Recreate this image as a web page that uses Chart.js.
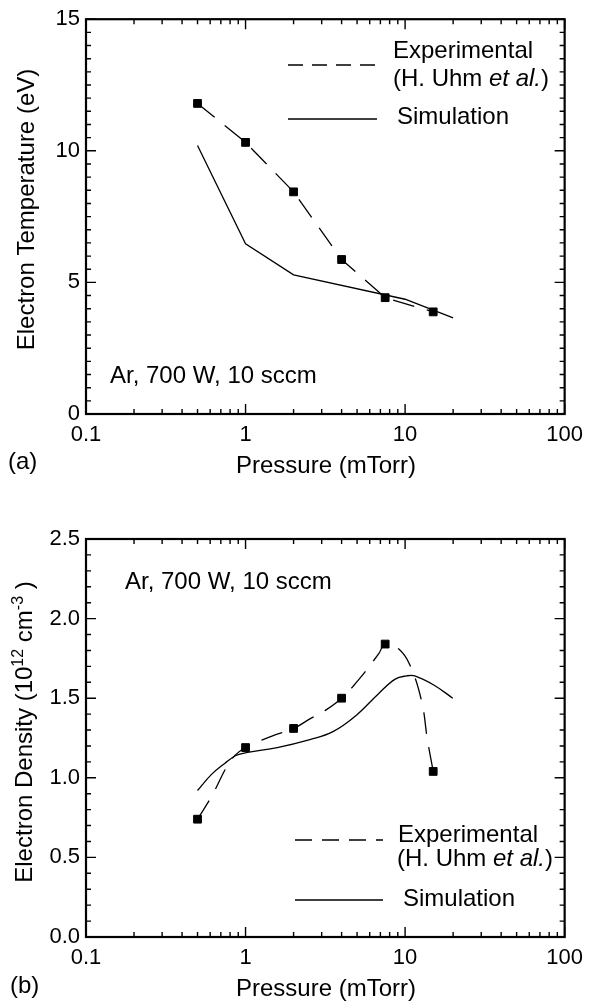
<!DOCTYPE html>
<html>
<head>
<meta charset="utf-8">
<script src="https://cdn.jsdelivr.net/npm/chart.js@4.4.1/dist/chart.umd.min.js"></script>
<style>
  html, body { margin: 0; padding: 0; background: #fff; }
  canvas { position: absolute; left: 0; }
  #tempChart { top: 0; }
  #densChart { top: 500px; }
</style>
</head>
<body>
<canvas id="tempChart" width="591" height="500"></canvas>
<canvas id="densChart" width="591" height="503"></canvas>
<script>
// (a) electron temperature (eV) vs pressure (mTorr)
const tempExpPressure = [0.5, 1, 2, 4, 7.5, 15];
const tempExpValues = [11.8, 10.32, 8.44, 5.87, 4.42, 3.88];
const tempSimPressure = [0.5, 1, 2, 10, 20];
const tempSimValues = [10.2, 6.47, 5.29, 4.36, 3.65];

// (b) electron density (1e12 cm-3) vs pressure (mTorr)
const densExpPressure = [0.5, 1, 2, 4, 7.5, 15];
const densExpValues = [0.74, 1.19, 1.31, 1.50, 1.84, 1.04];
const densFitPressure = [0.5, 0.61, 0.81, 1, 1.45, 2, 2.53, 3.12, 4, 5.15, 6.84, 7.5, 9.1, 10.7, 12.7, 13.8, 15];
const densFitValues = [0.74, 0.88, 1.11, 1.19, 1.26, 1.31, 1.37, 1.42, 1.50, 1.62, 1.78, 1.84, 1.81, 1.71, 1.48, 1.24, 1.04];
const densSimPressure = [0.5, 0.61, 0.74, 0.87, 1.03, 1.58, 2.53, 3.53, 4.91, 6.84, 8.67, 10.2, 11.5, 15.3, 19.9];
const densSimValues = [0.92, 1.02, 1.09, 1.14, 1.16, 1.19, 1.24, 1.29, 1.39, 1.53, 1.62, 1.64, 1.64, 1.58, 1.50];

// tick labels
const pressureTicks = [0.1, 1, 10, 100];
const tempTicks = [0, 5, 10, 15];
const densTicks = [0, 0.5, 1.0, 1.5, 2.0, 2.5];

const FAMILY = '"Liberation Sans", Arial, Helvetica, sans-serif';
const FONT = '24px ' + FAMILY;
const ITALIC = 'italic 24px ' + FAMILY;
const SUP = '16px ' + FAMILY;

Chart.defaults.font.family = FAMILY;
Chart.defaults.color = '#000';

const toPoints = (xs, ys) => xs.map((x, i) => ({ x: x, y: ys[i] }));

// closed box with inward ticks on all four sides
const frame = {
  id: 'frame',
  afterDatasetsDraw(chart, args, opts) {
    const { ctx, chartArea: a, scales: { x, y } } = chart;
    ctx.save();
    ctx.strokeStyle = '#000';
    ctx.lineWidth = 1.4;
    ctx.beginPath();
    const xTick = (v, len) => {
      const px = x.getPixelForValue(v);
      ctx.moveTo(px, a.bottom); ctx.lineTo(px, a.bottom - len);
      ctx.moveTo(px, a.top); ctx.lineTo(px, a.top + len);
    };
    const yTick = (v, len) => {
      const py = y.getPixelForValue(v);
      ctx.moveTo(a.left, py); ctx.lineTo(a.left + len, py);
      ctx.moveTo(a.right, py); ctx.lineTo(a.right - len, py);
    };
    pressureTicks.forEach((d, i) => {
      xTick(d, 10);
      if (i < pressureTicks.length - 1) {
        for (let k = 2; k <= 9; k++) xTick(k * d, 5);
      }
    });
    const yt = opts.yTicks;
    for (let i = 0; i < yt.length - 1; i++) {
      const step = (yt[i + 1] - yt[i]) / opts.yMinor;
      for (let k = 1; k < opts.yMinor; k++) yTick(yt[i] + k * step, 5);
    }
    yt.forEach(v => yTick(v, 10));
    ctx.stroke();
    ctx.lineWidth = 2.2;
    ctx.strokeRect(a.left, a.top, a.right - a.left, a.bottom - a.top);
    ctx.restore();
  }
};

// free text (titles, annotation, legend) and legend samples
const notes = {
  id: 'notes',
  afterDraw(chart, args, opts) {
    const ctx = chart.ctx;
    ctx.save();
    ctx.fillStyle = '#000';
    ctx.strokeStyle = '#000';
    (opts.lines || []).forEach(l => {
      ctx.beginPath();
      ctx.lineWidth = 1.3;
      ctx.setLineDash(l.dash || []);
      ctx.moveTo(l.x1, l.y);
      ctx.lineTo(l.x2, l.y);
      ctx.stroke();
    });
    ctx.setLineDash([]);
    (opts.texts || []).forEach(item => {
      ctx.save();
      ctx.translate(item.x, item.y);
      if (item.rotate) ctx.rotate(-Math.PI / 2);
      ctx.textBaseline = 'alphabetic';
      ctx.textAlign = 'left';
      const parts = item.parts.map(p => (typeof p === 'string' ? { t: p } : p));
      let total = 0;
      parts.forEach(p => {
        ctx.font = p.font || FONT;
        p.w = ctx.measureText(p.t).width;
        total += p.w;
      });
      let cx = item.align === 'center' ? -total / 2 : 0;
      parts.forEach(p => {
        ctx.font = p.font || FONT;
        ctx.fillText(p.t, cx, p.dy || 0);
        cx += p.w;
      });
      ctx.restore();
    });
    ctx.restore();
  }
};

function xAxis(height) {
  return {
    type: 'logarithmic', min: 0.1, max: 100,
    grid: { display: false, drawTicks: false }, border: { display: false },
    afterBuildTicks: s => { s.ticks = pressureTicks.map(v => ({ value: v })); },
    afterFit: s => { s.height = height; },
    ticks: { font: { size: 22 }, padding: 8, autoSkip: false, maxRotation: 0, callback: v => String(v) }
  };
}

function yAxis(min, max, ticks, fmt) {
  return {
    min: min, max: max,
    grid: { display: false, drawTicks: false }, border: { display: false },
    afterBuildTicks: s => { s.ticks = ticks.map(v => ({ value: v })); },
    afterFit: s => { s.width = 86; },
    ticks: { font: { size: 22 }, padding: 6, callback: fmt }
  };
}

const solid = { borderColor: '#000', borderWidth: 1.3, pointRadius: 0, fill: false };
const dashed = { borderColor: '#000', borderWidth: 1.3, borderDash: [22, 13], fill: false };
const squares = { pointStyle: 'rect', pointRadius: 5.5, pointBackgroundColor: '#000', pointBorderColor: '#000', pointBorderWidth: 1 };

new Chart(document.getElementById('tempChart'), {
  type: 'line',
  data: {
    datasets: [
      Object.assign({ label: 'Simulation', data: toPoints(tempSimPressure, tempSimValues), tension: 0 }, solid),
      Object.assign({ label: 'Experimental (H. Uhm et al.)', data: toPoints(tempExpPressure, tempExpValues), tension: 0 }, dashed, squares)
    ]
  },
  options: {
    responsive: false, animation: false, events: [],
    layout: { padding: { left: 0, right: 19, top: 16, bottom: 26 } },
    scales: {
      x: xAxis(60),
      y: yAxis(0, 15, tempTicks, v => String(v))
    },
    plugins: {
      legend: { display: false }, tooltip: { enabled: false },
      frame: { yTicks: tempTicks, yMinor: 10 },
      notes: {
        lines: [
          { x1: 288, x2: 377, y: 65, dash: [15, 9] },
          { x1: 288, x2: 377, y: 119 }
        ],
        texts: [
          { x: 34, y: 209.5, rotate: true, align: 'center', parts: ['Electron Temperature (eV)'] },
          { x: 326, y: 473, align: 'center', parts: ['Pressure (mTorr)'] },
          { x: 8, y: 469, parts: ['(a)'] },
          { x: 110, y: 383, parts: ['Ar, 700 W, 10 sccm'] },
          { x: 393, y: 58, parts: ['Experimental'] },
          { x: 393, y: 86, parts: ['(H. Uhm ', { t: 'et al.', font: ITALIC }, ')'] },
          { x: 397, y: 124, parts: ['Simulation'] }
        ]
      }
    }
  },
  plugins: [frame, notes]
});

new Chart(document.getElementById('densChart'), {
  type: 'line',
  data: {
    datasets: [
      Object.assign({ label: 'Simulation', data: toPoints(densSimPressure, densSimValues), tension: 0.4 }, solid),
      Object.assign({ label: 'Experimental fit', data: toPoints(densFitPressure, densFitValues), tension: 0.4, pointRadius: 0 }, dashed),
      Object.assign({ label: 'Experimental (H. Uhm et al.)', data: toPoints(densExpPressure, densExpValues), showLine: false }, squares)
    ]
  },
  options: {
    responsive: false, animation: false, events: [],
    layout: { padding: { left: 0, right: 19, top: 39, bottom: 16 } },
    scales: {
      x: xAxis(50),
      y: yAxis(0, 2.5, densTicks, v => v.toFixed(1))
    },
    plugins: {
      legend: { display: false }, tooltip: { enabled: false },
      frame: { yTicks: densTicks, yMinor: 5 },
      notes: {
        lines: [
          { x1: 295, x2: 383, y: 340, dash: [17, 10] },
          { x1: 295, x2: 383, y: 400 }
        ],
        texts: [
          { x: 32, y: 232, rotate: true, align: 'center',
            parts: ['Electron Density (10', { t: '12', font: SUP, dy: -9 }, ' cm', { t: '-3', font: SUP, dy: -9 }, ' )'] },
          { x: 326, y: 496, align: 'center', parts: ['Pressure (mTorr)'] },
          { x: 10, y: 493, parts: ['(b)'] },
          { x: 125, y: 89, parts: ['Ar, 700 W, 10 sccm'] },
          { x: 398, y: 342, parts: ['Experimental'] },
          { x: 397, y: 366, parts: ['(H. Uhm ', { t: 'et al.', font: ITALIC }, ')'] },
          { x: 403, y: 406, parts: ['Simulation'] }
        ]
      }
    }
  },
  plugins: [frame, notes]
});
</script>
</body>
</html>
